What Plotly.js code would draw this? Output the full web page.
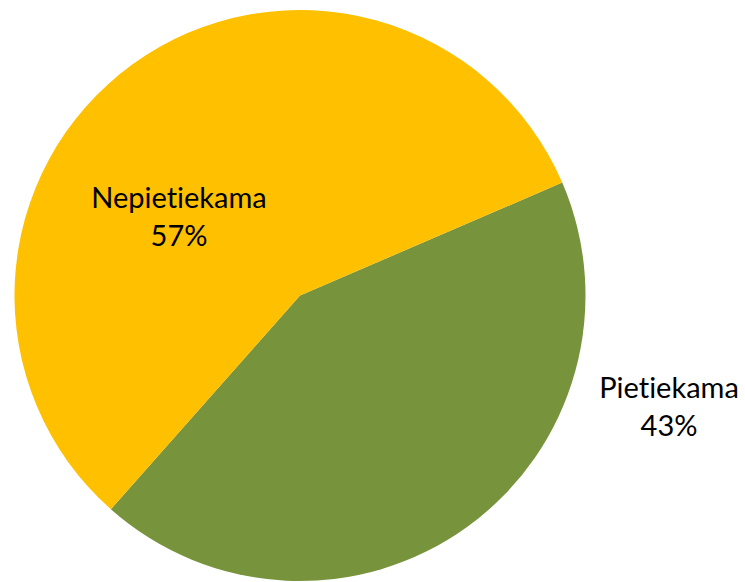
<!DOCTYPE html>
<html>
<head>
<meta charset="utf-8">
<script src="https://cdn.plot.ly/plotly-3.0.1.min.js"></script>
<style>
html,body{margin:0;padding:0;background:#fff;}
#chart{width:745px;height:582px;}
#chart text{font-variant-ligatures:none !important;font-feature-settings:"liga" 0, "clig" 0 !important;}
</style>
</head>
<body>
<div id="chart"></div>
<script>
const labels = ["Pietiekama", "Nepietiekama"];
const values = [43, 57];
const colors = ["#77933C", "#FFC000"];

const total = values.reduce((a, b) => a + b, 0);
const pct = values.map(v => Math.round(v / total * 100) + "%");

const labelPos = [
  {x: 0.898, y: 0.303},
  {x: 0.240, y: 0.629}
];

const trace = {
  type: "pie",
  labels: labels,
  values: values,
  sort: false,
  direction: "clockwise",
  rotation: 66.7,
  marker: {colors: colors, line: {width: 0}},
  textinfo: "none",
  hoverinfo: "label+percent",
  domain: {x: [13/745, 587/745], y: [1/582, 572/582]}
};

const annotations = labels.map((l, i) => ({
  xref: "paper", yref: "paper",
  x: labelPos[i].x, y: labelPos[i].y,
  xanchor: "center", yanchor: "middle",
  text: l + "<br>" + pct[i],
  showarrow: false,
  align: "center",
  font: {family: "Lato, 'Open Sans', sans-serif", size: 29, color: "#000000"}
}));

const layout = {
  width: 745, height: 582,
  margin: {l: 0, r: 0, t: 0, b: 0},
  showlegend: false,
  paper_bgcolor: "#ffffff",
  annotations: annotations
};

Plotly.newPlot("chart", [trace], layout, {displayModeBar: false, staticPlot: true});
</script>
</body>
</html>
